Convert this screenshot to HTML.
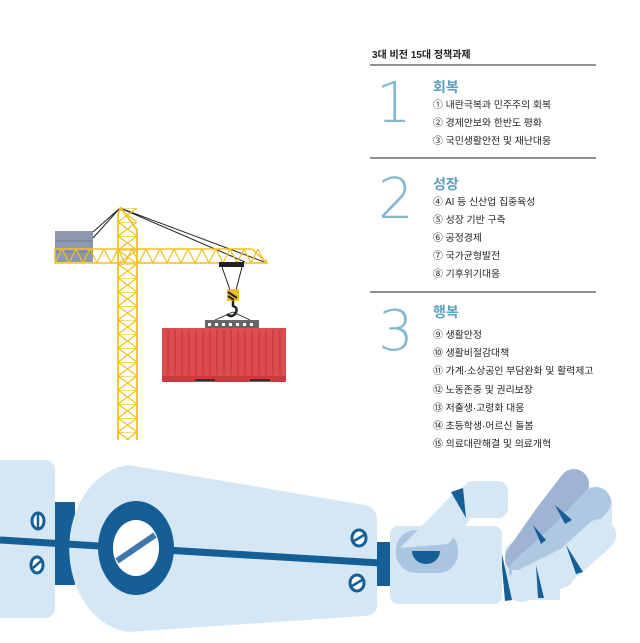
<!DOCTYPE html>
<html><head><meta charset="utf-8"><style>
html,body{margin:0;padding:0;background:#fff;width:640px;height:643px;overflow:hidden}
svg{display:block}
.t{font-family:"Liberation Sans","Noto Sans CJK KR",sans-serif;fill:#222;font-size:9.9px}
.h{font-family:"Liberation Sans","Noto Sans CJK KR",sans-serif;fill:#5b9fc1;font-size:14px;font-weight:bold}
.n{font-family:"DejaVu Sans","Liberation Sans",sans-serif;font-weight:200;fill:#86b9d0;font-size:56px}
</style></head><body>
<svg width="640" height="643" viewBox="0 0 640 643" xmlns="http://www.w3.org/2000/svg">
<defs>
<pattern id="mast" x="118" y="208" width="19" height="14" patternUnits="userSpaceOnUse">
<path d="M0 0H19M0 0L19 14M19 0L0 14" stroke="#f0c020" stroke-width="1.2" fill="none"/>
</pattern>
<pattern id="jib" x="55" y="249" width="14" height="14" patternUnits="userSpaceOnUse">
<path d="M0 14L7 0L14 14" stroke="#f0c020" stroke-width="1.2" fill="none"/>
</pattern>
</defs>
<text x="372" y="58" class="t" style="font-weight:bold;font-size:10px">3대 비전 15대 정책과제</text>
<line x1="370" y1="65" x2="596" y2="65" stroke="#222" stroke-width="1"/>
<text x="376" y="122" class="n">1</text>
<text x="433" y="92" class="h">회복</text>
<text x="433" y="108" class="t">① 내란극복과 민주주의 회복</text>
<text x="433" y="126" class="t">② 경제안보와 한반도 평화</text>
<text x="433" y="144" class="t">③ 국민생활안전 및 재난대응</text>
<line x1="370" y1="158" x2="596" y2="158" stroke="#222" stroke-width="1"/>
<text x="378" y="218" class="n">2</text>
<text x="433" y="189" class="h">성장</text>
<text x="433" y="205" class="t">④ AI 등 신산업 집중육성</text>
<text x="433" y="223" class="t">⑤ 성장 기반 구축</text>
<text x="433" y="241" class="t">⑥ 공정경제</text>
<text x="433" y="259" class="t">⑦ 국가균형발전</text>
<text x="433" y="277" class="t">⑧ 기후위기대응</text>
<line x1="370" y1="292" x2="596" y2="292" stroke="#222" stroke-width="1"/>
<text x="378" y="350" class="n">3</text>
<text x="433" y="317" class="h">행복</text>
<text x="433" y="338" class="t">⑨ 생활안정</text>
<text x="433" y="356" class="t">⑩ 생활비절감대책</text>
<text x="433" y="374" class="t">⑪ 가계·소상공인 부담완화 및 활력제고</text>
<text x="433" y="393" class="t">⑫ 노동존중 및 권리보장</text>
<text x="433" y="411" class="t">⑬ 저출생·고령화 대응</text>
<text x="433" y="429" class="t">⑭ 초등학생·어르신 돌봄</text>
<text x="433" y="447" class="t">⑮ 의료대란해결 및 의료개혁</text>

<rect x="55" y="231" width="38" height="31" fill="#8e99ad"/>
<line x1="55" y1="241" x2="93" y2="241" stroke="#6f7b92"/>
<line x1="55" y1="252" x2="93" y2="252" stroke="#6f7b92"/>
<path d="M120 208L93 232M120 208L93 238M120 208L267 263M120 208L245 262" stroke="#222" stroke-width="1" fill="none"/>
<rect x="55" y="249" width="212" height="14" fill="url(#jib)"/>
<path d="M55 249H252L267 263H55Z" fill="none" stroke="#f0c020" stroke-width="1.5"/>
<rect x="118" y="208" width="19" height="232" fill="url(#mast)"/>
<path d="M118 440V214L121 208L137 230V440" fill="none" stroke="#f0c020" stroke-width="1.8"/>
<rect x="219" y="262" width="25" height="5" fill="#222"/>
<path d="M222 267L230 290M242 267L236 290" stroke="#222" stroke-width="1"/>
<path d="M227 289h12v12h-12z" fill="#f0c020"/>
<path d="M228 292l9 6M228 296l6 4" stroke="#222" stroke-width="2"/>
<path d="M233 301v5q6 2 2 8q-4 4 -8 0" stroke="#222" stroke-width="2.5" fill="none"/>
<path d="M233 312L215 320M233 312L250 320" stroke="#222" stroke-width="0.8"/>
<rect x="205" y="320" width="54" height="8" fill="#666"/>
<g fill="#fff"><rect x="208" y="323" width="3" height="3"/><rect x="215" y="323" width="3" height="3"/><rect x="222" y="323" width="3" height="3"/><rect x="229" y="323" width="3" height="3"/><rect x="236" y="323" width="3" height="3"/><rect x="243" y="323" width="3" height="3"/><rect x="250" y="323" width="3" height="3"/></g>
<rect x="162" y="328" width="124" height="54" fill="#dc4c50"/>
<g stroke="#b83538" stroke-width="1">
<path d="M168 330v45M175 330v45M182 330v45M189 330v45M196 330v45M203 330v45M210 330v45M217 330v45M224 330v45M231 330v45M238 330v45M245 330v45M252 330v45M259 330v45M266 330v45M273 330v45M280 330v45"/></g>
<rect x="162" y="376" width="124" height="6" fill="#c93b3f"/>
<rect x="195" y="379" width="20" height="2" fill="#333"/><rect x="250" y="379" width="20" height="2" fill="#333"/>

<rect x="-10" y="460" width="65" height="158" rx="10" fill="#d5e6f4"/>
<rect x="55" y="502" width="20" height="83" fill="#155f96"/>
<path d="M128 465L365 505Q377 508 377 520L377 604Q377 615 365 616L128 632A66 84 0 0 1 128 465Z" fill="#d5e6f4"/>
<line x1="0" y1="540" x2="380" y2="563" stroke="#155f96" stroke-width="7"/>
<ellipse cx="136" cy="548" rx="38" ry="47" fill="#155f96"/>
<ellipse cx="136" cy="548" rx="23" ry="28" fill="#fff"/>
<line x1="117" y1="561" x2="155" y2="535" stroke="#3f77aa" stroke-width="6"/>
<g fill="#fff" stroke="#155f96" stroke-width="3">
<ellipse cx="38" cy="521" rx="6" ry="8"/><ellipse cx="37" cy="565" rx="6" ry="8"/>
<ellipse cx="359" cy="538" rx="7" ry="8"/><ellipse cx="357" cy="583" rx="7" ry="8"/></g>
<g stroke="#155f96" stroke-width="2.5">
<line x1="38" y1="514" x2="38" y2="528"/><line x1="33" y1="568" x2="41" y2="561"/>
<line x1="354" y1="541" x2="364" y2="535"/><line x1="352" y1="586" x2="362" y2="580"/></g>
<rect x="377" y="542" width="14" height="44" fill="#155f96"/>
<!-- fingers -->
<path d="M505 548L540 520L575 478L612 500L612 530L570 585L540 598L505 600Z" fill="#d5e6f4"/>
<g fill="none" stroke-linecap="round" stroke-linejoin="round">
<path d="M520 558L548 518L574 484" stroke="#9fb3d4" stroke-width="30"/>
<path d="M524 572L565 535L596 502" stroke="#aec8e2" stroke-width="30"/>
<path d="M522 586L570 562L600 535" stroke="#d5e6f4" stroke-width="32"/>
<path d="M512 585L560 585" stroke="#d5e6f4" stroke-width="30" stroke-linecap="butt"/>
</g>
<path d="M500 545L512 600L505 601Z" fill="#155f96"/>
<path d="M536 565L544 598L538 598Z M566 545L583 572L576 574Z M555 505L572 520L565 524Z M533 525L546 540L541 544Z M530 530L540 545Z" fill="#155f96"/>
<rect x="390" y="526" width="112" height="78" rx="8" fill="#d5e6f4"/>
<rect x="396" y="530" width="62" height="43" rx="20" fill="#a9c5df"/>
<path d="M412 551A14 13 0 0 0 440 551Z" fill="#155f96"/>
<path d="M400 548L455 492L468 484L470 520L448 544Z" fill="#d5e6f4"/>
<rect x="463" y="481" width="45" height="37" rx="10" fill="#d5e6f4"/>
<path d="M451 492L463 488L466 518Z" fill="#155f96"/>
</svg>
</body></html>
